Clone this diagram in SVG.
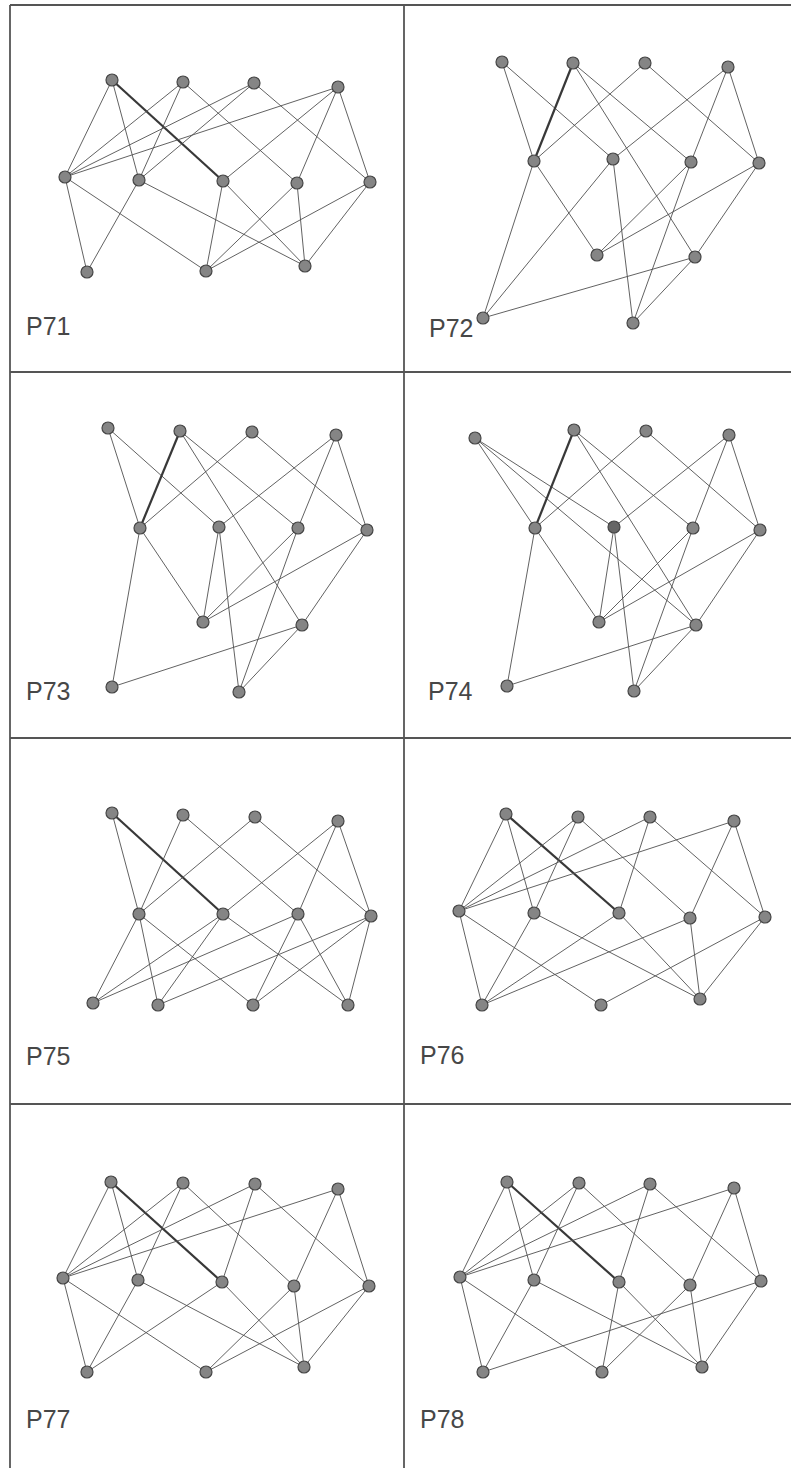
<svg xmlns="http://www.w3.org/2000/svg" width="791" height="1468" viewBox="0 0 791 1468">
<style>
  .frame{stroke:#555555;stroke-width:1.8;fill:none}
  .edges line{stroke:#505050;stroke-width:0.9}
  .edges line.bold{stroke:#383838;stroke-width:2.2}
  .node circle{fill:#858585;stroke:#454545;stroke-width:1.2}
  .label{font-family:"Liberation Sans",Arial,sans-serif;font-size:25px;fill:#474747}
</style>
<rect width="791" height="1468" fill="#ffffff"/>

<!-- panel grid -->
<g id="grid" class="frame">
  <line x1="10" y1="5" x2="791" y2="5"/>
  <line x1="10" y1="5" x2="10" y2="1468"/>
  <line x1="404" y1="5" x2="404" y2="1468"/>
  <line x1="10" y1="372" x2="791" y2="372"/>
  <line x1="10" y1="738" x2="791" y2="738"/>
  <line x1="10" y1="1104" x2="791" y2="1104"/>
</g>

<!-- P71 -->
<g id="p71-edges" class="edges">
  <line x1="112" y1="80" x2="65" y2="177"/>
  <line x1="112" y1="80" x2="139" y2="180"/>
  <line class="bold" x1="112" y1="80" x2="223" y2="181"/>
  <line x1="183" y1="82" x2="65" y2="177"/>
  <line x1="183" y1="82" x2="139" y2="180"/>
  <line x1="183" y1="82" x2="297" y2="183"/>
  <line x1="254" y1="83" x2="65" y2="177"/>
  <line x1="254" y1="83" x2="139" y2="180"/>
  <line x1="254" y1="83" x2="370" y2="182"/>
  <line x1="338" y1="87" x2="65" y2="177"/>
  <line x1="338" y1="87" x2="223" y2="181"/>
  <line x1="338" y1="87" x2="297" y2="183"/>
  <line x1="338" y1="87" x2="370" y2="182"/>
  <line x1="65" y1="177" x2="87" y2="272"/>
  <line x1="65" y1="177" x2="206" y2="271"/>
  <line x1="139" y1="180" x2="87" y2="272"/>
  <line x1="139" y1="180" x2="305" y2="266"/>
  <line x1="223" y1="181" x2="206" y2="271"/>
  <line x1="223" y1="181" x2="305" y2="266"/>
  <line x1="297" y1="183" x2="206" y2="271"/>
  <line x1="297" y1="183" x2="305" y2="266"/>
  <line x1="370" y1="182" x2="206" y2="271"/>
  <line x1="370" y1="182" x2="305" y2="266"/>
</g>
<g id="p71-a1" class="node"><circle cx="112" cy="80" r="6"/></g>
<g id="p71-a2" class="node"><circle cx="183" cy="82" r="6"/></g>
<g id="p71-a3" class="node"><circle cx="254" cy="83" r="6"/></g>
<g id="p71-a4" class="node"><circle cx="338" cy="87" r="6"/></g>
<g id="p71-b1" class="node"><circle cx="65" cy="177" r="6"/></g>
<g id="p71-b2" class="node"><circle cx="139" cy="180" r="6"/></g>
<g id="p71-b3" class="node"><circle cx="223" cy="181" r="6"/></g>
<g id="p71-b4" class="node"><circle cx="297" cy="183" r="6"/></g>
<g id="p71-b5" class="node"><circle cx="370" cy="182" r="6"/></g>
<g id="p71-c1" class="node"><circle cx="87" cy="272" r="6"/></g>
<g id="p71-c2" class="node"><circle cx="206" cy="271" r="6"/></g>
<g id="p71-c3" class="node"><circle cx="305" cy="266" r="6"/></g>
<text class="label" x="26" y="335">P71</text>

<!-- P72 -->
<g id="p72-edges" class="edges">
  <line x1="502" y1="62" x2="534" y2="161"/>
  <line x1="502" y1="62" x2="613" y2="159"/>
  <line class="bold" x1="573" y1="63" x2="534" y2="161"/>
  <line x1="573" y1="63" x2="691" y2="162"/>
  <line x1="573" y1="63" x2="695" y2="257"/>
  <line x1="645" y1="63" x2="534" y2="161"/>
  <line x1="645" y1="63" x2="759" y2="163"/>
  <line x1="728" y1="67" x2="613" y2="159"/>
  <line x1="728" y1="67" x2="691" y2="162"/>
  <line x1="728" y1="67" x2="759" y2="163"/>
  <line x1="534" y1="161" x2="597" y2="255"/>
  <line x1="534" y1="161" x2="483" y2="318"/>
  <line x1="613" y1="159" x2="483" y2="318"/>
  <line x1="613" y1="159" x2="633" y2="323"/>
  <line x1="691" y1="162" x2="597" y2="255"/>
  <line x1="691" y1="162" x2="633" y2="323"/>
  <line x1="759" y1="163" x2="597" y2="255"/>
  <line x1="759" y1="163" x2="695" y2="257"/>
  <line x1="695" y1="257" x2="483" y2="318"/>
  <line x1="695" y1="257" x2="633" y2="323"/>
</g>
<g id="p72-a1" class="node"><circle cx="502" cy="62" r="6"/></g>
<g id="p72-a2" class="node"><circle cx="573" cy="63" r="6"/></g>
<g id="p72-a3" class="node"><circle cx="645" cy="63" r="6"/></g>
<g id="p72-a4" class="node"><circle cx="728" cy="67" r="6"/></g>
<g id="p72-b1" class="node"><circle cx="534" cy="161" r="6"/></g>
<g id="p72-b2" class="node"><circle cx="613" cy="159" r="6"/></g>
<g id="p72-b3" class="node"><circle cx="691" cy="162" r="6"/></g>
<g id="p72-b4" class="node"><circle cx="759" cy="163" r="6"/></g>
<g id="p72-c1" class="node"><circle cx="597" cy="255" r="6"/></g>
<g id="p72-c2" class="node"><circle cx="695" cy="257" r="6"/></g>
<g id="p72-d1" class="node"><circle cx="483" cy="318" r="6"/></g>
<g id="p72-d2" class="node"><circle cx="633" cy="323" r="6"/></g>
<text class="label" x="429" y="337">P72</text>

<!-- P73 -->
<g id="p73-edges" class="edges">
  <line x1="108" y1="428" x2="140" y2="528"/>
  <line x1="108" y1="428" x2="219" y2="527"/>
  <line class="bold" x1="180" y1="431" x2="140" y2="528"/>
  <line x1="180" y1="431" x2="298" y2="528"/>
  <line x1="180" y1="431" x2="302" y2="625"/>
  <line x1="252" y1="432" x2="140" y2="528"/>
  <line x1="252" y1="432" x2="367" y2="530"/>
  <line x1="336" y1="435" x2="219" y2="527"/>
  <line x1="336" y1="435" x2="298" y2="528"/>
  <line x1="336" y1="435" x2="367" y2="530"/>
  <line x1="140" y1="528" x2="203" y2="622"/>
  <line x1="140" y1="528" x2="112" y2="687"/>
  <line x1="219" y1="527" x2="203" y2="622"/>
  <line x1="219" y1="527" x2="239" y2="692"/>
  <line x1="298" y1="528" x2="203" y2="622"/>
  <line x1="298" y1="528" x2="239" y2="692"/>
  <line x1="367" y1="530" x2="203" y2="622"/>
  <line x1="367" y1="530" x2="302" y2="625"/>
  <line x1="302" y1="625" x2="112" y2="687"/>
  <line x1="302" y1="625" x2="239" y2="692"/>
</g>
<g id="p73-a1" class="node"><circle cx="108" cy="428" r="6"/></g>
<g id="p73-a2" class="node"><circle cx="180" cy="431" r="6"/></g>
<g id="p73-a3" class="node"><circle cx="252" cy="432" r="6"/></g>
<g id="p73-a4" class="node"><circle cx="336" cy="435" r="6"/></g>
<g id="p73-b1" class="node"><circle cx="140" cy="528" r="6"/></g>
<g id="p73-b2" class="node"><circle cx="219" cy="527" r="6"/></g>
<g id="p73-b3" class="node"><circle cx="298" cy="528" r="6"/></g>
<g id="p73-b4" class="node"><circle cx="367" cy="530" r="6"/></g>
<g id="p73-c1" class="node"><circle cx="203" cy="622" r="6"/></g>
<g id="p73-c2" class="node"><circle cx="302" cy="625" r="6"/></g>
<g id="p73-d1" class="node"><circle cx="112" cy="687" r="6"/></g>
<g id="p73-d2" class="node"><circle cx="239" cy="692" r="6"/></g>
<text class="label" x="26" y="700">P73</text>

<!-- P74 -->
<g id="p74-edges" class="edges">
  <line x1="475" y1="438" x2="535" y2="528"/>
  <line x1="475" y1="438" x2="614" y2="527"/>
  <line x1="475" y1="438" x2="696" y2="625"/>
  <line class="bold" x1="574" y1="430" x2="535" y2="528"/>
  <line x1="574" y1="430" x2="693" y2="528"/>
  <line x1="574" y1="430" x2="696" y2="625"/>
  <line x1="646" y1="431" x2="535" y2="528"/>
  <line x1="646" y1="431" x2="760" y2="530"/>
  <line x1="729" y1="435" x2="614" y2="527"/>
  <line x1="729" y1="435" x2="693" y2="528"/>
  <line x1="729" y1="435" x2="760" y2="530"/>
  <line x1="535" y1="528" x2="599" y2="622"/>
  <line x1="535" y1="528" x2="507" y2="686"/>
  <line x1="614" y1="527" x2="599" y2="622"/>
  <line x1="614" y1="527" x2="634" y2="691"/>
  <line x1="693" y1="528" x2="599" y2="622"/>
  <line x1="693" y1="528" x2="634" y2="691"/>
  <line x1="760" y1="530" x2="599" y2="622"/>
  <line x1="760" y1="530" x2="696" y2="625"/>
  <line x1="696" y1="625" x2="507" y2="686"/>
  <line x1="696" y1="625" x2="634" y2="691"/>
</g>
<g id="p74-a1" class="node"><circle cx="475" cy="438" r="6"/></g>
<g id="p74-a2" class="node"><circle cx="574" cy="430" r="6"/></g>
<g id="p74-a3" class="node"><circle cx="646" cy="431" r="6"/></g>
<g id="p74-a4" class="node"><circle cx="729" cy="435" r="6"/></g>
<g id="p74-b1" class="node"><circle cx="535" cy="528" r="6"/></g>
<g id="p74-b2" class="node"><circle cx="614" cy="527" r="6" style="fill:#666"/></g>
<g id="p74-b3" class="node"><circle cx="693" cy="528" r="6"/></g>
<g id="p74-b4" class="node"><circle cx="760" cy="530" r="6"/></g>
<g id="p74-c1" class="node"><circle cx="599" cy="622" r="6"/></g>
<g id="p74-c2" class="node"><circle cx="696" cy="625" r="6"/></g>
<g id="p74-d1" class="node"><circle cx="507" cy="686" r="6"/></g>
<g id="p74-d2" class="node"><circle cx="634" cy="691" r="6"/></g>
<text class="label" x="428" y="700">P74</text>

<!-- P75 -->
<g id="p75-edges" class="edges">
  <line x1="112" y1="813" x2="139" y2="914"/>
  <line class="bold" x1="112" y1="813" x2="223" y2="914"/>
  <line x1="183" y1="815" x2="139" y2="914"/>
  <line x1="183" y1="815" x2="298" y2="914"/>
  <line x1="255" y1="817" x2="139" y2="914"/>
  <line x1="255" y1="817" x2="371" y2="916"/>
  <line x1="338" y1="821" x2="223" y2="914"/>
  <line x1="338" y1="821" x2="298" y2="914"/>
  <line x1="338" y1="821" x2="371" y2="916"/>
  <line x1="139" y1="914" x2="93" y2="1003"/>
  <line x1="139" y1="914" x2="158" y2="1005"/>
  <line x1="139" y1="914" x2="253" y2="1005"/>
  <line x1="223" y1="914" x2="93" y2="1003"/>
  <line x1="223" y1="914" x2="158" y2="1005"/>
  <line x1="223" y1="914" x2="348" y2="1005"/>
  <line x1="298" y1="914" x2="93" y2="1003"/>
  <line x1="298" y1="914" x2="253" y2="1005"/>
  <line x1="298" y1="914" x2="348" y2="1005"/>
  <line x1="371" y1="916" x2="158" y2="1005"/>
  <line x1="371" y1="916" x2="253" y2="1005"/>
  <line x1="371" y1="916" x2="348" y2="1005"/>
</g>
<g id="p75-a1" class="node"><circle cx="112" cy="813" r="6"/></g>
<g id="p75-a2" class="node"><circle cx="183" cy="815" r="6"/></g>
<g id="p75-a3" class="node"><circle cx="255" cy="817" r="6"/></g>
<g id="p75-a4" class="node"><circle cx="338" cy="821" r="6"/></g>
<g id="p75-b1" class="node"><circle cx="139" cy="914" r="6"/></g>
<g id="p75-b2" class="node"><circle cx="223" cy="914" r="6"/></g>
<g id="p75-b3" class="node"><circle cx="298" cy="914" r="6"/></g>
<g id="p75-b4" class="node"><circle cx="371" cy="916" r="6"/></g>
<g id="p75-c1" class="node"><circle cx="93" cy="1003" r="6"/></g>
<g id="p75-c2" class="node"><circle cx="158" cy="1005" r="6"/></g>
<g id="p75-c3" class="node"><circle cx="253" cy="1005" r="6"/></g>
<g id="p75-c4" class="node"><circle cx="348" cy="1005" r="6"/></g>
<text class="label" x="26" y="1065">P75</text>

<!-- P76 -->
<g id="p76-edges" class="edges">
  <line x1="506" y1="814" x2="459" y2="911"/>
  <line x1="506" y1="814" x2="534" y2="913"/>
  <line class="bold" x1="506" y1="814" x2="619" y2="913"/>
  <line x1="578" y1="817" x2="459" y2="911"/>
  <line x1="578" y1="817" x2="534" y2="913"/>
  <line x1="578" y1="817" x2="690" y2="918"/>
  <line x1="650" y1="817" x2="459" y2="911"/>
  <line x1="650" y1="817" x2="619" y2="913"/>
  <line x1="650" y1="817" x2="765" y2="917"/>
  <line x1="734" y1="821" x2="459" y2="911"/>
  <line x1="734" y1="821" x2="690" y2="918"/>
  <line x1="734" y1="821" x2="765" y2="917"/>
  <line x1="459" y1="911" x2="482" y2="1005"/>
  <line x1="459" y1="911" x2="601" y2="1005"/>
  <line x1="534" y1="913" x2="482" y2="1005"/>
  <line x1="534" y1="913" x2="700" y2="999"/>
  <line x1="619" y1="913" x2="482" y2="1005"/>
  <line x1="619" y1="913" x2="700" y2="999"/>
  <line x1="690" y1="918" x2="482" y2="1005"/>
  <line x1="690" y1="918" x2="700" y2="999"/>
  <line x1="765" y1="917" x2="601" y2="1005"/>
  <line x1="765" y1="917" x2="700" y2="999"/>
</g>
<g id="p76-a1" class="node"><circle cx="506" cy="814" r="6"/></g>
<g id="p76-a2" class="node"><circle cx="578" cy="817" r="6"/></g>
<g id="p76-a3" class="node"><circle cx="650" cy="817" r="6"/></g>
<g id="p76-a4" class="node"><circle cx="734" cy="821" r="6"/></g>
<g id="p76-b1" class="node"><circle cx="459" cy="911" r="6"/></g>
<g id="p76-b2" class="node"><circle cx="534" cy="913" r="6"/></g>
<g id="p76-b3" class="node"><circle cx="619" cy="913" r="6"/></g>
<g id="p76-b4" class="node"><circle cx="690" cy="918" r="6"/></g>
<g id="p76-b5" class="node"><circle cx="765" cy="917" r="6"/></g>
<g id="p76-c1" class="node"><circle cx="482" cy="1005" r="6"/></g>
<g id="p76-c2" class="node"><circle cx="601" cy="1005" r="6"/></g>
<g id="p76-c3" class="node"><circle cx="700" cy="999" r="6"/></g>
<text class="label" x="420" y="1064">P76</text>

<!-- P77 -->
<g id="p77-edges" class="edges">
  <line x1="111" y1="1182" x2="63" y2="1278"/>
  <line x1="111" y1="1182" x2="138" y2="1280"/>
  <line class="bold" x1="111" y1="1182" x2="222" y2="1282"/>
  <line x1="183" y1="1183" x2="63" y2="1278"/>
  <line x1="183" y1="1183" x2="138" y2="1280"/>
  <line x1="183" y1="1183" x2="294" y2="1286"/>
  <line x1="255" y1="1184" x2="63" y2="1278"/>
  <line x1="255" y1="1184" x2="222" y2="1282"/>
  <line x1="255" y1="1184" x2="369" y2="1286"/>
  <line x1="338" y1="1189" x2="63" y2="1278"/>
  <line x1="338" y1="1189" x2="294" y2="1286"/>
  <line x1="338" y1="1189" x2="369" y2="1286"/>
  <line x1="63" y1="1278" x2="87" y2="1372"/>
  <line x1="63" y1="1278" x2="206" y2="1372"/>
  <line x1="138" y1="1280" x2="87" y2="1372"/>
  <line x1="138" y1="1280" x2="304" y2="1367"/>
  <line x1="222" y1="1282" x2="87" y2="1372"/>
  <line x1="222" y1="1282" x2="304" y2="1367"/>
  <line x1="294" y1="1286" x2="206" y2="1372"/>
  <line x1="294" y1="1286" x2="304" y2="1367"/>
  <line x1="369" y1="1286" x2="206" y2="1372"/>
  <line x1="369" y1="1286" x2="304" y2="1367"/>
</g>
<g id="p77-a1" class="node"><circle cx="111" cy="1182" r="6"/></g>
<g id="p77-a2" class="node"><circle cx="183" cy="1183" r="6"/></g>
<g id="p77-a3" class="node"><circle cx="255" cy="1184" r="6"/></g>
<g id="p77-a4" class="node"><circle cx="338" cy="1189" r="6"/></g>
<g id="p77-b1" class="node"><circle cx="63" cy="1278" r="6"/></g>
<g id="p77-b2" class="node"><circle cx="138" cy="1280" r="6"/></g>
<g id="p77-b3" class="node"><circle cx="222" cy="1282" r="6"/></g>
<g id="p77-b4" class="node"><circle cx="294" cy="1286" r="6"/></g>
<g id="p77-b5" class="node"><circle cx="369" cy="1286" r="6"/></g>
<g id="p77-c1" class="node"><circle cx="87" cy="1372" r="6"/></g>
<g id="p77-c2" class="node"><circle cx="206" cy="1372" r="6"/></g>
<g id="p77-c3" class="node"><circle cx="304" cy="1367" r="6"/></g>
<text class="label" x="26" y="1428">P77</text>

<!-- P78 -->
<g id="p78-edges" class="edges">
  <line x1="507" y1="1182" x2="460" y2="1277"/>
  <line x1="507" y1="1182" x2="534" y2="1280"/>
  <line class="bold" x1="507" y1="1182" x2="619" y2="1282"/>
  <line x1="579" y1="1183" x2="460" y2="1277"/>
  <line x1="579" y1="1183" x2="534" y2="1280"/>
  <line x1="579" y1="1183" x2="690" y2="1285"/>
  <line x1="650" y1="1184" x2="460" y2="1277"/>
  <line x1="650" y1="1184" x2="619" y2="1282"/>
  <line x1="650" y1="1184" x2="761" y2="1281"/>
  <line x1="734" y1="1188" x2="460" y2="1277"/>
  <line x1="734" y1="1188" x2="690" y2="1285"/>
  <line x1="734" y1="1188" x2="761" y2="1281"/>
  <line x1="460" y1="1277" x2="483" y2="1372"/>
  <line x1="460" y1="1277" x2="602" y2="1372"/>
  <line x1="534" y1="1280" x2="483" y2="1372"/>
  <line x1="534" y1="1280" x2="702" y2="1367"/>
  <line x1="619" y1="1282" x2="602" y2="1372"/>
  <line x1="619" y1="1282" x2="702" y2="1367"/>
  <line x1="690" y1="1285" x2="602" y2="1372"/>
  <line x1="690" y1="1285" x2="702" y2="1367"/>
  <line x1="761" y1="1281" x2="483" y2="1372"/>
  <line x1="761" y1="1281" x2="702" y2="1367"/>
</g>
<g id="p78-a1" class="node"><circle cx="507" cy="1182" r="6"/></g>
<g id="p78-a2" class="node"><circle cx="579" cy="1183" r="6"/></g>
<g id="p78-a3" class="node"><circle cx="650" cy="1184" r="6"/></g>
<g id="p78-a4" class="node"><circle cx="734" cy="1188" r="6"/></g>
<g id="p78-b1" class="node"><circle cx="460" cy="1277" r="6"/></g>
<g id="p78-b2" class="node"><circle cx="534" cy="1280" r="6"/></g>
<g id="p78-b3" class="node"><circle cx="619" cy="1282" r="6"/></g>
<g id="p78-b4" class="node"><circle cx="690" cy="1285" r="6"/></g>
<g id="p78-b5" class="node"><circle cx="761" cy="1281" r="6"/></g>
<g id="p78-c1" class="node"><circle cx="483" cy="1372" r="6"/></g>
<g id="p78-c2" class="node"><circle cx="602" cy="1372" r="6"/></g>
<g id="p78-c3" class="node"><circle cx="702" cy="1367" r="6"/></g>
<text class="label" x="420" y="1428">P78</text>
</svg>
